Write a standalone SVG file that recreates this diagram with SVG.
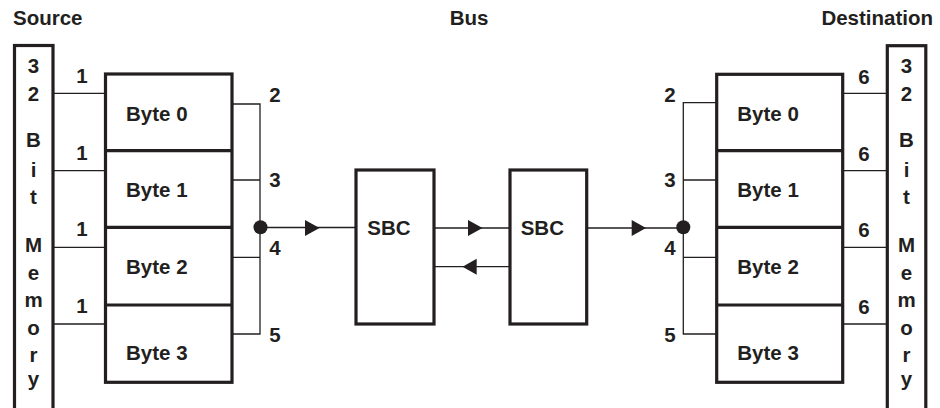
<svg xmlns="http://www.w3.org/2000/svg" width="940" height="408" viewBox="0 0 940 408">
<style>
text{font-family:"Liberation Sans",Arial,sans-serif;font-weight:bold;font-size:20.5px;fill:#231f20}
.c{text-anchor:middle}
.box{fill:#fff;stroke:#231f20;stroke-width:3.2}
.ln{fill:none;stroke:#231f20;stroke-width:1.3}
.ah{fill:#231f20}
</style>
<rect width="940" height="408" fill="#fff"/>
<text x="13" y="25">Source</text>
<text x="469" y="25" class="c">Bus</text>
<text x="933" y="25" text-anchor="end">Destination</text>

<g id="connectors">
<path class="ln" d="M53 93.3H105M53 170.7H105M53 247.3H105M53 324H105"/>
<path class="ln" d="M232 104H260V334H232M232 180H260M232 257.3H260M260 227.5H356"/>
<path class="ln" d="M434 228H510M510 266.7H434M586.7 228H683.3"/>
<path class="ln" d="M716.7 102.7H683.3V334H716.7M683.3 180H716.7M683.3 257.3H716.7"/>
<path class="ln" d="M842.7 93.3H887.3M842.7 170.7H887.3M842.7 247.3H887.3M842.7 324H887.3"/>
<circle cx="260.5" cy="227.3" r="7" class="ah"/>
<circle cx="683.3" cy="227.3" r="7" class="ah"/>
<path class="ah" d="M305 220V236L319.5 228Z"/>
<path class="ah" d="M468 220V236L482.5 228Z"/>
<path class="ah" d="M476.7 258.7V274.7L462.5 266.7Z"/>
<path class="ah" d="M631.7 220V236L646 228Z"/>
</g>

<g id="source-memory">
<rect class="box" x="14.5" y="45.5" width="38.5" height="380"/>
<g class="c">
<text x="33.5" y="72.7">3</text><text x="33.5" y="100.7">2</text>
<text x="33.5" y="146.7">B</text><text x="33.5" y="176.7">i</text><text x="33.5" y="204">t</text>
<text x="33.5" y="252.3">M</text><text x="33.5" y="280">e</text><text x="33.5" y="307">m</text>
<text x="33.5" y="335">o</text><text x="33.5" y="362">r</text><text x="33.5" y="386">y</text>
</g>
</g>

<g id="source-bytes">
<rect class="box" x="105.5" y="74" width="126.5" height="308.3"/>
<path class="box" d="M105.5 150.7H232M105.5 227.3H232M105.5 305H232"/>
<text x="126" y="120.7">Byte 0</text>
<text x="126" y="197.3">Byte 1</text>
<text x="126" y="274.3">Byte 2</text>
<text x="126" y="360">Byte 3</text>
</g>

<g id="labels" class="c">
<text x="82" y="83.3">1</text><text x="82" y="160">1</text><text x="82" y="236">1</text><text x="82" y="313.3">1</text>
<text x="275" y="101.7">2</text><text x="275" y="186.7">3</text><text x="275" y="255">4</text><text x="275" y="341.7">5</text>
<text x="670" y="101.7">2</text><text x="670" y="186.7">3</text><text x="670" y="255">4</text><text x="670" y="341.7">5</text>
<text x="864" y="84">6</text><text x="864" y="160.7">6</text><text x="864" y="236.7">6</text><text x="864" y="314">6</text>
</g>

<g id="sbc1">
<rect class="box" x="356" y="170" width="78" height="154"/>
<text x="367.3" y="235">SBC</text>
</g>
<g id="sbc2">
<rect class="box" x="510" y="170" width="76.7" height="154"/>
<text x="520.7" y="235">SBC</text>
</g>

<g id="dest-bytes">
<rect class="box" x="716.7" y="74.3" width="126" height="308"/>
<path class="box" d="M716.7 150.7H842.7M716.7 227.3H842.7M716.7 305H842.7"/>
<text x="737.3" y="120.7">Byte 0</text>
<text x="737.3" y="197.3">Byte 1</text>
<text x="737.3" y="274.3">Byte 2</text>
<text x="737.3" y="360">Byte 3</text>
</g>

<g id="dest-memory">
<rect class="box" x="887.3" y="45.7" width="38.5" height="380"/>
<g class="c">
<text x="906.5" y="72.7">3</text><text x="906.5" y="100.7">2</text>
<text x="906.5" y="146.7">B</text><text x="906.5" y="176.7">i</text><text x="906.5" y="204">t</text>
<text x="906.5" y="252.3">M</text><text x="906.5" y="280">e</text><text x="906.5" y="307">m</text>
<text x="906.5" y="335">o</text><text x="906.5" y="362">r</text><text x="906.5" y="386">y</text>
</g>
</g>
</svg>
